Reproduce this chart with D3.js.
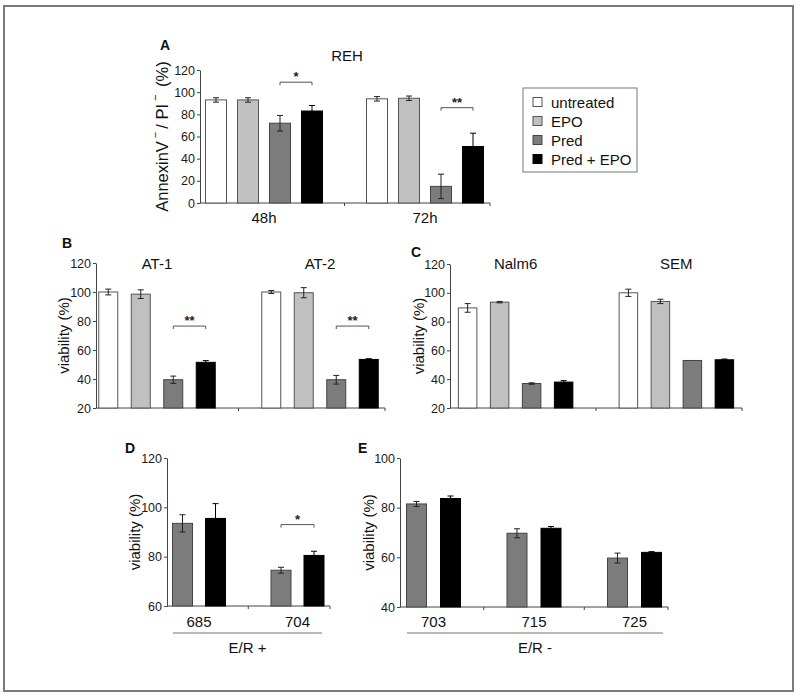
<!DOCTYPE html>
<html><head><meta charset="utf-8">
<script src="https://cdn.jsdelivr.net/npm/d3@7"></script>
<style>body{margin:0;background:#fff}svg{display:block;font-family:"Liberation Sans",Arial,sans-serif}</style>
</head><body>
<svg id="c" width="800" height="699"></svg>
<script>
// ---------- DATA ----------
const seriesNames = ["untreated", "EPO", "Pred", "Pred + EPO"];
const predSeries = ["Pred", "Pred + EPO"];

const aGroups = ["48h", "72h"];
const aMeans = [[93, 93, 72, 83], [94, 94.5, 15, 51]];
const aErrs = [[2, 2, 7, 5], [2, 2, 11, 12]];
const aTicks = [0, 20, 40, 60, 80, 100, 120];
const aSigLevels = [109, 86];
const aSigLabels = ["*", "**"];

const bGroups = ["AT-1", "AT-2"];
const bMeans = [[100, 98.5, 39.5, 51.5], [100, 99.5, 39.5, 53.5]];
const bErrs = [[2, 3, 2.5, 1.2], [1, 3.5, 3, 0.5]];
const bTicks = [20, 40, 60, 80, 100, 120];
const bSigLevels = [76.5, 76.5];
const bSigLabels = ["**", "**"];

const cGroups = ["Nalm6", "SEM"];
const cMeans = [[89.5, 93.5, 37, 38], [100, 94, 53, 53.5]];
const cErrs = [[3, 0.5, 0.5, 1], [2.5, 1.5, 0, 0.5]];
const cTicks = [20, 40, 60, 80, 100, 120];

const dGroups = ["685", "704"];
const dMeans = [[93.5, 95.5], [74.5, 80.5]];
const dErrs = [[3.5, 6], [1.2, 1.7]];
const dTicks = [60, 80, 100, 120];
const dSigLevels = [null, 93];
const dSigLabels = [null, "*"];
const dCaption = "E/R +";

const eGroups = ["703", "715", "725"];
const eMeans = [[81.5, 83.7], [69.7, 71.7], [59.7, 62]];
const eErrs = [[1, 1], [1.8, 0.7], [2, 0.3]];
const eTicks = [40, 60, 80, 100];
const eCaption = "E/R -";

// ---------- STYLE ----------
const fills = {"untreated": "#ffffff", "EPO": "#c0c0c0", "Pred": "#7c7c7c", "Pred + EPO": "#000000"};
const strokes = {"untreated": "#555", "EPO": "#555", "Pred": "#444", "Pred + EPO": "#000"};
const axisColor = "#444";

const svg = d3.select("#c");

svg.append("rect").attr("x", 4).attr("y", 6).attr("width", 789).attr("height", 685)
  .attr("fill", "none").attr("stroke", "#7a7a7a").attr("stroke-width", 2);

function panel(o) {
  const g = svg.append("g");
  const y = d3.scaleLinear().domain(o.yDomain).range(o.yRange);
  const x0 = d3.scaleBand().domain(o.groups).range(o.xRange);
  const n = o.series.length;
  const x1 = d3.scaleBand().domain(o.series)
    .range([-n * o.step / 2, n * o.step / 2])
    .paddingInner(1 - o.barW / o.step).paddingOuter((1 - o.barW / o.step) / 2);

  const yAxis = d3.axisLeft(y).tickValues(o.ticks).tickSize(3).tickSizeOuter(0).tickPadding(2);
  const ya = g.append("g").attr("transform", `translate(${o.axisX0},0)`).call(yAxis);
  ya.select(".domain").attr("stroke", axisColor);
  ya.selectAll(".tick line").attr("stroke", axisColor);
  ya.selectAll("text").attr("font-size", 12.5).attr("fill", "#1a1a1a")
    .attr("font-family", "Liberation Sans, Arial, sans-serif");

  const yb = o.yRange[0];
  g.append("line").attr("x1", o.axisX0).attr("x2", o.axisX1).attr("y1", yb).attr("y2", yb)
    .attr("stroke", axisColor);
  const bounds = o.groups.slice(1).map(gn => x0(gn)).concat([o.axisX1]);
  g.selectAll(".xt").data(bounds).join("line")
    .attr("x1", d => d).attr("x2", d => d).attr("y1", yb).attr("y2", yb + 3).attr("stroke", axisColor);

  o.groups.forEach((gn, gi) => {
    const cx = x0(gn) + x0.bandwidth() / 2;
    o.series.forEach((s, si) => {
      const v = o.means[gi][si], e = o.errs[gi][si];
      const bx = cx + x1(s);
      g.append("rect").attr("x", bx).attr("y", y(v)).attr("width", x1.bandwidth())
        .attr("height", yb - y(v)).attr("fill", fills[s]).attr("stroke", strokes[s]).attr("stroke-width", 1);
      if (e > 0) {
        const mx = bx + x1.bandwidth() / 2;
        const ec = s === "Pred + EPO" ? "#000" : "#222";
        g.append("line").attr("x1", mx).attr("x2", mx).attr("y1", y(v + e)).attr("y2", y(v - e)).attr("stroke", ec);
        [v + e, v - e].forEach(t => g.append("line").attr("x1", mx - 3).attr("x2", mx + 3)
          .attr("y1", y(t)).attr("y2", y(t)).attr("stroke", ec));
      }
    });
    if (o.sigLevels && o.sigLevels[gi] != null) {
      const a = cx + x1(o.series[n - 2]) + x1.bandwidth() / 2;
      const b = cx + x1(o.series[n - 1]) + x1.bandwidth() / 2;
      const sy = y(o.sigLevels[gi]);
      g.append("path").attr("d", `M${a},${sy + 3}V${sy}H${b}V${sy + 3}`).attr("fill", "none")
        .attr("stroke", "#555").attr("stroke-width", 1);
      g.append("text").attr("x", (a + b) / 2).attr("y", sy - 1).attr("text-anchor", "middle")
        .attr("font-size", 13).attr("font-weight", "bold").attr("fill", "#222").text(o.sigLabels[gi]);
    }
    g.append("text").attr("x", cx).attr("y", o.groupLabelY).attr("text-anchor", "middle")
      .attr("font-size", 15).attr("fill", "#111").text(gn);
  });

  const yl = g.append("text").attr("transform", `translate(${o.yLabelX},${(o.yRange[0] + o.yRange[1]) / 2}) rotate(-90)`)
    .attr("text-anchor", "middle").attr("dominant-baseline", "central")
    .attr("font-size", o.yLabelSize || 15).attr("fill", "#111");
  if (o.yLabelParts) {
    o.yLabelParts.forEach(p => {
      if (p.sup) yl.append("tspan").attr("font-size", 11).attr("dx", 3).attr("dy", -7).text(p.t);
      else yl.append("tspan").attr("dx", p.reset ? 3 : 0).attr("dy", p.reset ? 7 : 0).text(p.t);
    });
  } else yl.text(o.yLabel);

  g.append("text").attr("x", o.letterX).attr("y", o.letterY).attr("font-size", 14)
    .attr("font-weight", "bold").attr("fill", "#111").text(o.letter);

  if (o.title) g.append("text").attr("x", o.title[1]).attr("y", o.title[2]).attr("text-anchor", "middle")
    .attr("font-size", 15).attr("fill", "#111").text(o.title[0]);

  if (o.caption) {
    g.append("line").attr("x1", o.captionLine[0]).attr("x2", o.captionLine[1]).attr("y1", 633).attr("y2", 633)
      .attr("stroke", "#777").attr("stroke-width", 1.2);
    g.append("text").attr("x", (o.captionLine[0] + o.captionLine[1]) / 2).attr("y", 653)
      .attr("text-anchor", "middle").attr("font-size", 15).attr("fill", "#111").text(o.caption);
  }
}

panel({groups: aGroups, series: seriesNames, means: aMeans, errs: aErrs, ticks: aTicks,
  yDomain: [0, 120], yRange: [203, 70], xRange: [183.5, 505.5], axisX0: 200, axisX1: 490,
  step: 32, barW: 21, sigLevels: aSigLevels, sigLabels: aSigLabels, groupLabelY: 223,
  yLabelX: 162, yLabelSize: 16.5,
  yLabelParts: [{t: "AnnexinV"}, {t: "\u2212", sup: true}, {t: "/ PI", reset: true}, {t: "\u2212", sup: true}, {t: " (%)", reset: true}],
  letter: "A", letterX: 160, letterY: 50, title: ["REH", 347, 61]});

panel({groups: bGroups, series: seriesNames, means: bMeans, errs: bErrs, ticks: bTicks,
  yDomain: [20, 120], yRange: [408, 263], xRange: [75.5, 401.5], axisX0: 96, axisX1: 385,
  step: 32.5, barW: 19, sigLevels: bSigLevels, sigLabels: bSigLabels, groupLabelY: 269,
  yLabelX: 63, yLabel: "viability (%)", letter: "B", letterX: 62, letterY: 248});

panel({groups: cGroups, series: seriesNames, means: cMeans, errs: cErrs, ticks: cTicks,
  yDomain: [20, 120], yRange: [408, 264], xRange: [435.25, 756.75], axisX0: 450, axisX1: 742,
  step: 32, barW: 18.5, groupLabelY: 269,
  yLabelX: 418, yLabel: "viability (%)", letter: "C", letterX: 411, letterY: 257});

panel({groups: dGroups, series: predSeries, means: dMeans, errs: dErrs, ticks: dTicks,
  yDomain: [60, 120], yRange: [606, 458], xRange: [149.75, 346.75], axisX0: 167, axisX1: 330,
  step: 33, barW: 20, sigLevels: dSigLevels, sigLabels: dSigLabels, groupLabelY: 627,
  yLabelX: 134, yLabel: "viability (%)", letter: "D", letterX: 125, letterY: 453,
  caption: dCaption, captionLine: [173, 322]});

panel({groups: eGroups, series: predSeries, means: eMeans, errs: eErrs, ticks: eTicks,
  yDomain: [40, 100], yRange: [607, 458], xRange: [383.25, 684.75], axisX0: 400, axisX1: 668,
  step: 34, barW: 20, groupLabelY: 627,
  yLabelX: 368, yLabel: "viability (%)", letter: "E", letterX: 358, letterY: 453,
  caption: eCaption, captionLine: [407, 663]});

const lg = svg.append("g");
lg.append("rect").attr("x", 523).attr("y", 88).attr("width", 114).attr("height", 84)
  .attr("fill", "#fff").attr("stroke", "#777").attr("stroke-width", 1);
const legendRows = [102, 121, 140, 159];
seriesNames.forEach((s, i) => {
  lg.append("rect").attr("x", 533).attr("y", legendRows[i] - 4.5).attr("width", 9).attr("height", 9)
    .attr("fill", fills[s]).attr("stroke", strokes[s]);
  lg.append("text").attr("x", 551).attr("y", legendRows[i]).attr("dominant-baseline", "central")
    .attr("font-size", 15).attr("fill", "#111").text(s);
});
</script>
</body></html>
